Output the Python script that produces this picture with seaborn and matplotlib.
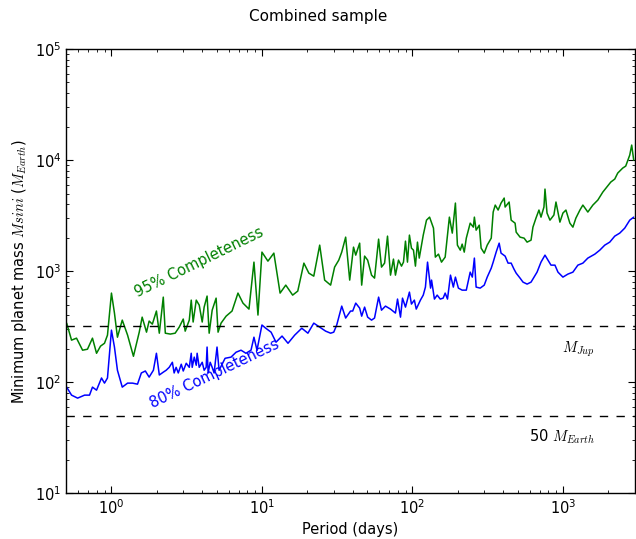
import numpy as np
import pandas as pd
import matplotlib
matplotlib.use("Agg")
import matplotlib.pyplot as plt
import seaborn as sns

# ---- data (period in days, minimum mass in Earth masses)
period95 = [0.504, 0.543, 0.586, 0.643, 0.693, 0.748, 0.796, 0.846, 0.899, 0.941,
            1.00, 1.047, 1.096, 1.18, 1.28, 1.40, 1.53, 1.60, 1.71, 1.78,
            1.87, 1.99, 2.08, 2.21, 2.28, 2.46, 2.65, 2.82, 3.00, 3.09,
            3.29, 3.39, 3.49, 3.66, 3.83, 4.01, 4.13, 4.32, 4.46, 4.67,
            4.96, 5.11, 5.35, 5.78, 6.33, 6.93, 7.48, 8.20, 8.85, 9.41,
            10.0, 10.96, 12.0, 13.2, 14.4, 16.0, 17.3, 19.0, 20.5, 22.1,
            24.2, 26.1, 28.6, 30.4, 32.4, 33.9, 36.0, 38.3, 40.6, 42.0,
            44.6, 46.0, 48.1, 50.4, 53.5, 56.0, 59.6, 62.3, 65.3, 68.3,
            71.5, 74.8, 77.1, 80.8, 84.6, 87.2, 89.9, 92.7, 95.5, 98.5,
            101.6, 104.7, 108, 111, 118, 124, 130, 138, 142, 149,
            156, 165, 176, 184, 193, 199, 208, 214, 221, 228,
            242, 254, 258, 265, 278, 286, 300, 314, 334, 344,
            355, 371, 388, 407, 413, 439, 453, 481, 489, 519,
            552, 578, 614, 632, 662, 693, 715, 748, 760, 784,
            820, 871, 899, 955, 1000, 1047, 1112, 1165, 1219, 1297,
            1357, 1464, 1581, 1706, 1841, 1955, 2080, 2210, 2313, 2496,
            2614, 2780, 2864, 2953]
mass95 = [340, 239, 249, 194, 198, 249, 182, 211, 224, 265,
          634, 419, 254, 362, 265, 171, 282, 385, 282, 355,
          333, 437, 276, 583, 276, 271, 276, 313, 370, 288,
          362, 548, 348, 548, 494, 348, 474, 596, 276, 445,
          571, 282, 340, 393, 437, 634, 515, 455, 1205, 402,
          1483, 1230, 1452, 634, 748, 608, 661, 1180, 959, 901,
          1714, 830, 748, 1087, 1256, 1483, 2023, 830, 1644, 1393,
          1786, 748, 1365, 1256, 920, 865, 1941, 1087, 1180, 2066,
          920, 1283, 920, 1256, 1109, 1205, 1862, 1205, 2110, 1611,
          1545, 1109, 1824, 1310, 2110, 2877, 3063, 2438, 1337, 1422,
          1205, 1337, 3063, 2199, 4100, 1714, 1545, 1750, 1483, 1982,
          2704, 2489, 3063, 2339, 2594, 1611, 1452, 1714, 1982, 3404,
          3933, 3548, 4100, 4550, 3776, 4190, 2877, 2704, 2244, 2023,
          1982, 1824, 1901, 2489, 3000, 3548, 3063, 3776, 5480, 3334,
          2877, 3200, 4190, 2762, 3334, 3548, 2704, 2489, 3000, 3548,
          3933, 3404, 3933, 4365, 5150, 5715, 6340, 6745, 7640, 8470,
          8830, 11100, 13650, 10000]

period80 = [0.504, 0.543, 0.596, 0.663, 0.715, 0.748, 0.796, 0.859, 0.899, 0.941,
            1.00, 1.047, 1.096, 1.18, 1.28, 1.38, 1.49, 1.58, 1.68, 1.78,
            1.90, 1.99, 2.08, 2.21, 2.31, 2.42, 2.54, 2.61, 2.69, 2.78,
            2.91, 3.00, 3.14, 3.29, 3.39, 3.44, 3.55, 3.66, 3.71, 3.83,
            4.01, 4.13, 4.26, 4.32, 4.39, 4.53, 4.67, 4.81, 5.03, 5.19,
            5.69, 6.23, 6.73, 7.26, 7.83, 8.46, 8.85, 9.27, 10.0, 10.6,
            11.5, 12.4, 13.6, 14.9, 16.5, 18.4, 20.2, 22.1, 24.2, 26.5,
            28.6, 30.0, 31.4, 33.9, 36.0, 38.8, 40.1, 42.0, 44.6, 46.0,
            48.1, 50.4, 53.5, 56.0, 59.6, 62.3, 66.2, 71.5, 77.1, 79.6,
            83.3, 85.9, 89.9, 95.5, 98.5, 103, 106, 113, 118, 122,
            126, 132, 134, 140, 146, 153, 160, 165, 171, 179,
            187, 193, 202, 214, 228, 242, 250, 258, 265, 282,
            300, 314, 334, 344, 360, 377, 388, 413, 432, 453,
            473, 489, 519, 543, 578, 614, 643, 673, 715, 760,
            796, 833, 885, 927, 1000, 1079, 1165, 1257, 1357, 1464,
            1629, 1758, 1897, 2047, 2210, 2385, 2574, 2780, 2953]
mass80 = [90.2, 76.4, 71.8, 76.4, 76.4, 90.2, 84.7, 109, 98.0, 109,
          294, 207, 128, 90.2, 98.0, 98.0, 95.9, 121, 126, 111,
          128, 182, 116, 123, 128, 136, 151, 121, 136, 121,
          145, 126, 148, 136, 182, 136, 168, 142, 182, 136,
          151, 128, 136, 207, 121, 151, 136, 121, 207, 128,
          164, 168, 186, 194, 182, 194, 254, 194, 327, 306,
          282, 229, 260, 224, 265, 306, 276, 340, 313, 288,
          276, 282, 327, 484, 378, 437, 437, 515, 464, 393,
          474, 385, 362, 378, 583, 445, 484, 455, 419, 560,
          385, 571, 474, 647, 505, 548, 455, 548, 608, 718,
          1205, 703, 830, 560, 608, 560, 571, 634, 560, 920,
          718, 883, 703, 674, 674, 979, 883, 1310, 718, 703,
          748, 883, 1064, 1205, 1483, 1786, 1452, 1365, 1180, 1180,
          1042, 959, 865, 796, 764, 796, 883, 979, 1205, 1393,
          1256, 1132, 1132, 979, 883, 940, 979, 1132, 1180, 1310,
          1422, 1545, 1714, 1824, 2066, 2199, 2438, 2877, 3063]

m_jup = 318
m_50 = 50
labels = ["95% Completeness", "80% Completeness"]

df95 = pd.DataFrame({"period": period95, "mass": mass95})
df80 = pd.DataFrame({"period": period80, "mass": mass80})

sns.set_style("ticks")
plt.rcParams["font.family"] = ["DejaVu Sans"]
plt.rcParams["mathtext.fontset"] = "cm"
plt.rcParams["font.size"] = 10.5
for key in ["text.color", "axes.labelcolor", "xtick.color", "ytick.color"]:
    plt.rcParams[key] = "black"

fig = plt.figure(figsize=(6.36, 5.39), dpi=100)
ax = fig.add_axes([0.104, 0.085, 0.894, 0.824])

sns.lineplot(data=df95, x="period", y="mass", ax=ax, color="green", lw=1.1,
             estimator=None, sort=False)
sns.lineplot(data=df80, x="period", y="mass", ax=ax, color="blue", lw=1.1,
             estimator=None, sort=False)

ax.set_xscale("log")
ax.set_yscale("log")
ax.set_xlim(0.5, 3000)
ax.set_ylim(10, 1e5)

ax.axhline(m_jup, color="black", ls=(0, (6, 6)), lw=1.0)
ax.axhline(m_50, color="black", ls=(0, (6, 6)), lw=1.0)

ax.text(1629, 198, r"$M_{Jup}$", ha="right", va="center", fontsize=10.5)
ax.text(1629, 32, r"50 $M_{Earth}$", ha="right", va="center", fontsize=10.5)

ax.text(3.83, 1205, labels[0], color="green", rotation=26, ha="center", va="center",
        fontsize=10.5, rotation_mode="anchor")
ax.text(4.88, 118, labels[1], color="blue", rotation=25.5, ha="center", va="center",
        fontsize=10.5, rotation_mode="anchor")

ax.set_xlabel("Period (days)", fontsize=10.5)
ax.set_ylabel(r"Minimum planet mass $M sin i$ ($M_{Earth}$)", fontsize=10.5)
fig.suptitle("Combined sample", y=0.97, va="center", fontsize=11)

ax.tick_params(which="both", direction="in", top=True, right=True, labelsize=10.5,
               colors="black")
ax.tick_params(which="major", length=5)
ax.tick_params(which="minor", length=2.5)
for s in ax.spines.values():
    s.set_visible(True)
    s.set_color("black")
    s.set_linewidth(1.0)

fig.savefig("out.png", dpi=100)
